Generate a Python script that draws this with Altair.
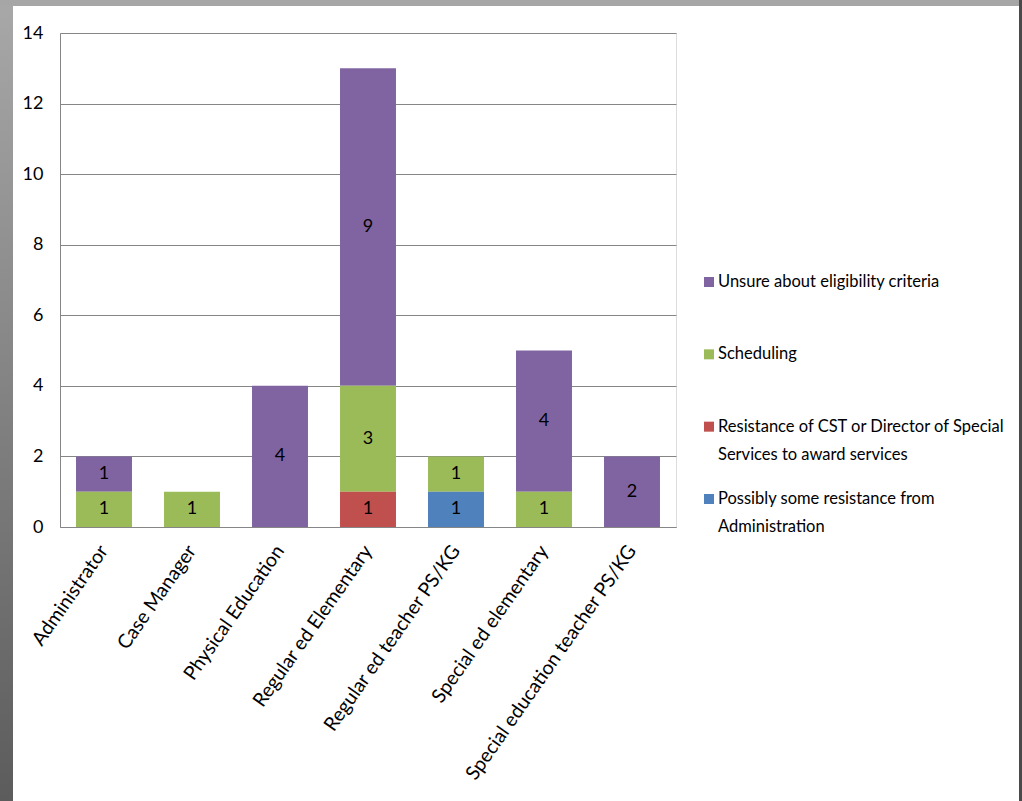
import altair as alt
import pandas as pd

categories = [
    "Administrator",
    "Case Manager",
    "Physical Education",
    "Regular ed Elementary",
    "Regular ed teacher PS/KG",
    "Special ed elementary",
    "Special education teacher PS/KG",
]

series_names = [
    "Unsure about eligibility criteria",
    "Scheduling",
    "Resistance of CST or Director of Special Services to award services",
    "Possibly some resistance from Administration",
]
legend_labels = [
    "Unsure about eligibility criteria",
    "Scheduling",
    "Resistance of CST or Director of Special\nServices to award services",
    "Possibly some resistance from\nAdministration",
]
series_colors = ["#8064A2", "#9BBB59", "#C0504D", "#4F81BD"]
stack_rank = [3, 2, 1, 0]  # bottom of stack = 0

unsure = [1, 0, 4, 9, 0, 4, 2]
scheduling = [1, 1, 0, 3, 1, 1, 0]
resistance = [0, 0, 0, 1, 0, 0, 0]
possibly = [0, 0, 0, 0, 1, 0, 0]

y_ticks = [0, 2, 4, 6, 8, 10, 12, 14]

values = [unsure, scheduling, resistance, possibly]
rows = []
for s, vals, rk in zip(series_names, values, stack_rank):
    for c, v in zip(categories, vals):
        if v > 0:
            rows.append({"cat": c, "series": s, "value": v, "ord": rk})
df = pd.DataFrame(rows)

legend_df = pd.DataFrame({"series": series_names, "label": legend_labels})

FONT = "Lato"
color_scale = alt.Scale(domain=series_names, range=series_colors)

base = alt.Chart(df).transform_stack(
    stack="value",
    as_=["y0", "y1"],
    groupby=["cat"],
    sort=[alt.SortField("ord", order="ascending")],
).transform_calculate(mid="(datum.y0 + datum.y1) / 2")

x_enc = alt.X(
    "cat:N",
    sort=categories,
    title=None,
    scale=alt.Scale(paddingInner=0.364, paddingOuter=0.182),
    axis=alt.Axis(
        labelAngle=-55,
        labelAlign="right",
        labelBaseline="middle",
        labelFontSize=19.5,
        labelFont=FONT,
        labelColor="#000000",
        labelPadding=20,
        labelLimit=400,
        ticks=False,
        domainColor="#868686",
        grid=False,
    ),
)

y_scale = alt.Scale(domain=[0, 14], nice=False)

bars = base.mark_bar().encode(
    x=x_enc,
    y=alt.Y(
        "y0:Q",
        title=None,
        scale=y_scale,
        axis=alt.Axis(
            values=y_ticks,
            labelFontSize=18,
            labelFont=FONT,
            labelColor="#000000",
            labelPadding=17,
            ticks=False,
            domainColor="#868686",
            gridColor="#868686",
            gridWidth=1,
        ),
    ),
    y2="y1:Q",
    color=alt.Color("series:N", scale=color_scale, legend=None),
)

labels = base.mark_text(font=FONT, fontSize=18, color="#000000", baseline="middle").encode(
    x=alt.X("cat:N", sort=categories),
    y=alt.Y("mid:Q", scale=y_scale),
    text=alt.Text("value:Q"),
)

plot = alt.layer(bars, labels)

legend_y = alt.Y(
    "series:N",
    sort=series_names,
    axis=None,
    scale=alt.Scale(type="point", range=[249, 466], padding=0),
)
leg_sym = alt.Chart(legend_df).mark_square(size=100, opacity=1).encode(
    x=alt.value(649),
    y=legend_y,
    color=alt.Color("series:N", scale=color_scale, legend=None),
)
leg_txt = alt.Chart(legend_df).mark_text(
    font=FONT, fontSize=16.5, align="left", baseline="top", dy=-8,
    lineBreak="\n", lineHeight=28, color="#000000",
).encode(
    x=alt.value(658),
    y=legend_y,
    text="label:N",
)
legend = alt.layer(leg_sym, leg_txt)

frame_df = pd.DataFrame({"k": [0]})
left_strip = alt.Chart(frame_df).mark_rect(
    color=alt.Gradient(
        gradient="linear",
        stops=[alt.GradientStop(color="#a8a8a8", offset=0),
               alt.GradientStop(color="#5c5c5c", offset=1)],
        x1=0, x2=0, y1=0, y2=1,
    )
).encode(x=alt.value(-60), x2=alt.value(-47), y=alt.value(-33), y2=alt.value(768))
top_strip = alt.Chart(frame_df).mark_rect(color="#a6a6a6").encode(
    x=alt.value(-60), x2=alt.value(962), y=alt.value(-33), y2=alt.value(-27)
)
right_strip = alt.Chart(frame_df).mark_rect(color="#4a4a4a").encode(
    x=alt.value(959), x2=alt.value(962), y=alt.value(-33), y2=alt.value(768)
)
frame = alt.layer(left_strip, top_strip, right_strip)

chart = alt.layer(plot, legend, frame).resolve_scale(
    y="independent", color="shared"
).properties(
    width=616,
    height=494,
    autosize=alt.AutoSizeParams(type="none"),
    padding={"left": 60, "top": 33, "right": 346, "bottom": 274},
    background="#ffffff",
).configure_view(stroke=None).configure(font=FONT)

chart.save("out.html", embed_options={"renderer": "svg", "actions": False})
